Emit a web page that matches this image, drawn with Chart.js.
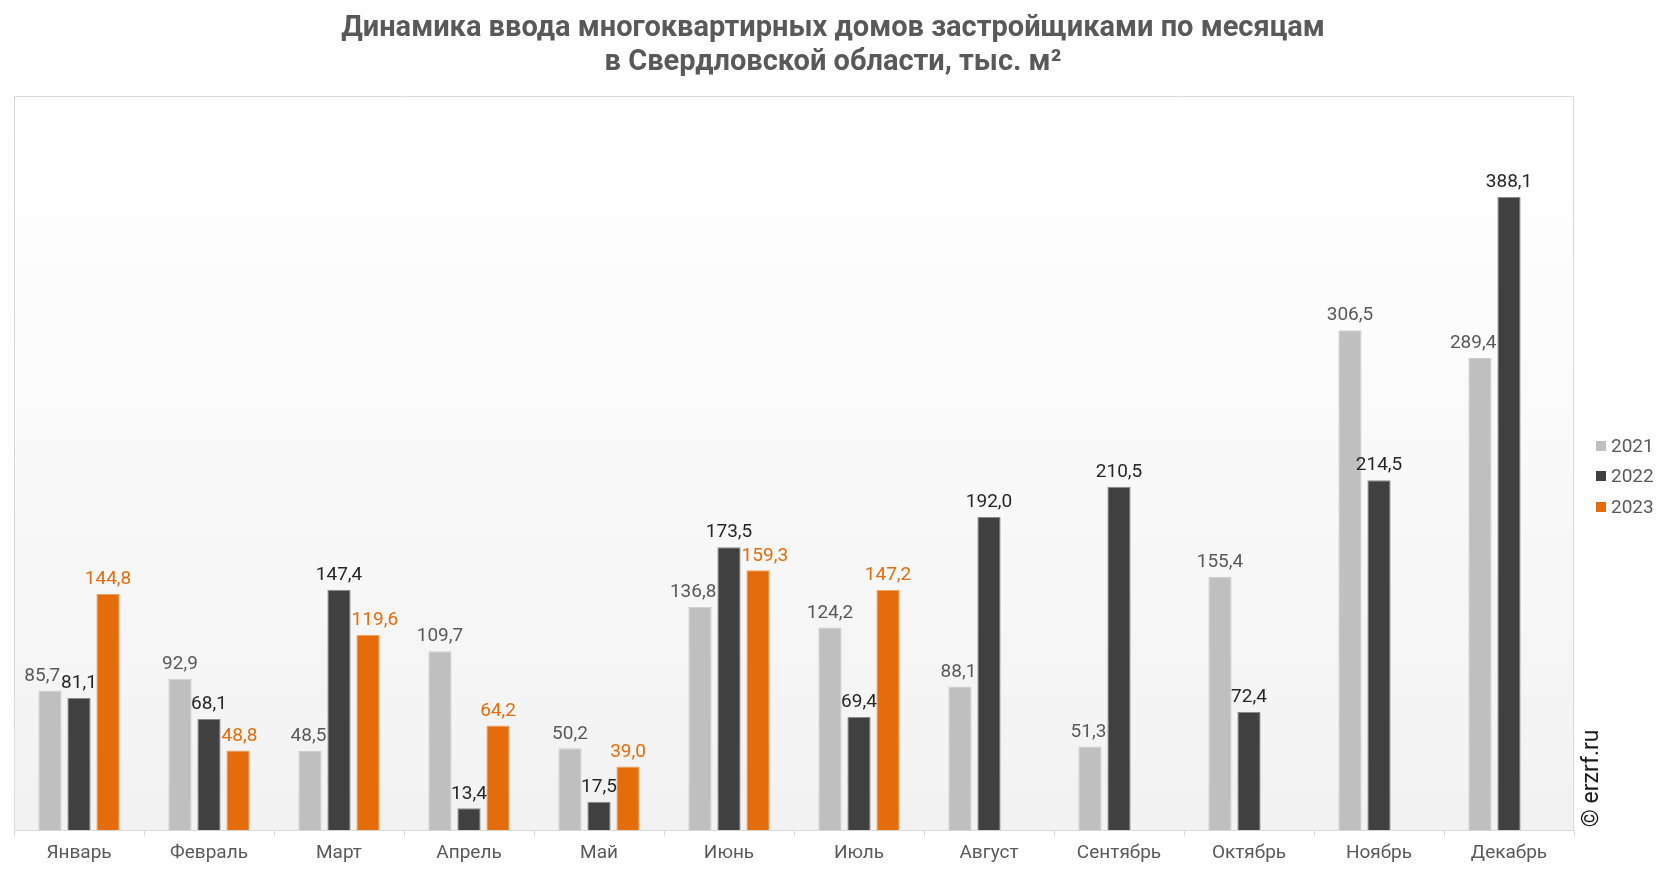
<!DOCTYPE html>
<html lang="ru">
<head>
<meta charset="utf-8">
<title>Динамика ввода многоквартирных домов</title>
<script src="https://cdn.jsdelivr.net/npm/chart.js@4.4.1/dist/chart.umd.min.js"></script>
<style>
    html, body { margin: 0; padding: 0; background: #ffffff; }
    #wrap { width: 1666px; height: 872px; }
</style>
</head>
<body>
<div id="wrap"><canvas id="inputChart" width="1666" height="872"></canvas></div>
<script>
// data, thousand m2
const months = ['Январь', 'Февраль', 'Март', 'Апрель', 'Май', 'Июнь', 'Июль', 'Август', 'Сентябрь', 'Октябрь', 'Ноябрь', 'Декабрь'];
const years = ['2021', '2022', '2023'];
const values2021 = [85.7, 92.9, 48.5, 109.7, 50.2, 136.8, 124.2, 88.1, 51.3, 155.4, 306.5, 289.4];
const values2022 = [81.1, 68.1, 147.4, 13.4, 17.5, 173.5, 69.4, 192.0, 210.5, 72.4, 214.5, 388.1];
const values2023 = [144.8, 48.8, 119.6, 64.2, 39.0, 159.3, 147.2, null, null, null, null, null];
const titleLines = ['Динамика ввода многоквартирных домов застройщиками по месяцам', 'в Свердловской области, тыс. м²'];

const barColors = ['#bfbfbf', '#404040', '#e46c0a'];
const labelColors = ['#595959', '#262626', '#e46c0a'];
const FONT = 'Roboto, "Noto Sans", sans-serif';
const LABEL_SIZE = 19;

function fmt(v) {
    return v.toFixed(1).replace('.', ',');
}

// plot area background and frame
const plotBackground = {
    id: 'plotBackground',
    beforeDraw(chart) {
        const { ctx, chartArea: a } = chart;
        const g = ctx.createLinearGradient(0, a.top, 0, a.bottom);
        g.addColorStop(0, '#ffffff');
        g.addColorStop(0.3, '#fcfcfc');
        g.addColorStop(1, '#f2f2f2');
        ctx.save();
        ctx.fillStyle = g;
        ctx.fillRect(a.left, a.top, a.right - a.left, a.bottom - a.top);
        ctx.strokeStyle = '#d9d9d9';
        ctx.lineWidth = 1;
        ctx.beginPath();
        ctx.moveTo(a.left + 0.5, a.bottom);
        ctx.lineTo(a.left + 0.5, a.top + 0.5);
        ctx.lineTo(a.right - 0.5, a.top + 0.5);
        ctx.lineTo(a.right - 0.5, a.bottom);
        ctx.stroke();

        // title, centred on the whole canvas
        ctx.fillStyle = '#595959';
        ctx.font = 'bold 29px ' + FONT;
        ctx.textAlign = 'center';
        ctx.textBaseline = 'middle';
        ctx.fillText(titleLines[0], chart.width / 2, 29);
        ctx.fillText(titleLines[1], chart.width / 2, 63);
        ctx.restore();
    }
};

// value labels above each bar; side labels step away from the middle bar
const valueLabels = {
    id: 'valueLabels',
    afterDatasetsDraw(chart) {
        const { ctx } = chart;
        ctx.save();
        ctx.font = LABEL_SIZE + 'px ' + FONT;
        ctx.textAlign = 'center';
        ctx.textBaseline = 'bottom';
        const mid = chart.getDatasetMeta(1).data;
        chart.data.datasets.forEach((ds, i) => {
            const meta = chart.getDatasetMeta(i);
            ctx.fillStyle = labelColors[i];
            meta.data.forEach((bar, j) => {
                const v = ds.data[j];
                if (v === null || v === undefined) return;
                const text = fmt(v);
                const w = ctx.measureText(text).width;
                const bottom = bar.y - 5;
                const top = bottom - LABEL_SIZE * 0.8;
                let x = bar.x;
                if (i !== 1 && values2022[j] !== null) {
                    const m = mid[j];
                    const mw = ctx.measureText(fmt(values2022[j])).width;
                    const mLabelTop = m.y - 5 - LABEL_SIZE * 0.8;
                    const half = m.width / 2;
                    // obstacles: middle bar and its label
                    let edge = null;
                    if (bottom > m.y) {
                        edge = i === 0 ? m.x - half : m.x + half;
                    }
                    if (bottom > mLabelTop && top < m.y - 5) {
                        const le = i === 0 ? m.x - mw / 2 : m.x + mw / 2;
                        edge = edge === null ? le : (i === 0 ? Math.min(edge, le) : Math.max(edge, le));
                    }
                    if (edge !== null) {
                        if (i === 0 && x + w / 2 > edge - 1) x = edge - 1 - w / 2;
                        if (i === 2 && x - w / 2 < edge + 1) x = edge + 1 + w / 2;
                    }
                }
                ctx.fillText(text, x, bottom);
            });
        });
        ctx.restore();
    }
};

// legend on the right and the copyright mark
const sideNotes = {
    id: 'sideNotes',
    afterDraw(chart) {
        const { ctx, chartArea: a } = chart;
        ctx.save();
        ctx.font = '19px ' + FONT;
        ctx.textBaseline = 'middle';
        ctx.textAlign = 'left';
        const ys = [446, 476, 507];
        years.forEach((y, i) => {
            ctx.fillStyle = barColors[i];
            ctx.fillRect(1596, ys[i] - 5, 10, 10);
            ctx.fillStyle = '#595959';
            ctx.fillText(y, 1611, ys[i] + 1);
        });
        ctx.translate(1592, a.bottom - 3);
        ctx.rotate(-Math.PI / 2);
        ctx.font = '23px ' + FONT;
        ctx.fillStyle = '#1a1a1a';
        ctx.fillText('© erzrf.ru', 0, 0);
        ctx.restore();
    }
};

const ctx = document.getElementById('inputChart').getContext('2d');
new Chart(ctx, {
    type: 'bar',
    data: {
        labels: months,
        datasets: [
            { label: years[0], data: values2021, backgroundColor: barColors[0], borderColor: '#d0d0d0', borderWidth: 1 },
            { label: years[1], data: values2022, backgroundColor: barColors[1], borderColor: '#8a8a8a', borderWidth: 1 },
            { label: years[2], data: values2023, backgroundColor: barColors[2], borderColor: '#f0a060', borderWidth: 1 }
        ]
    },
    plugins: [plotBackground, valueLabels, sideNotes],
    options: {
        responsive: false,
        animation: false,
        datasets: {
            bar: { categoryPercentage: 0.67, barPercentage: 0.8 }
        },
        layout: {
            padding: { left: 14, right: 92, top: 96, bottom: 1 }
        },
        plugins: {
            legend: { display: false },
            tooltip: { enabled: false },
            title: { display: false }
        },
        scales: {
            x: {
                grid: {
                    drawOnChartArea: false,
                    drawTicks: true,
                    tickLength: 6,
                    color: '#d9d9d9',
                    offset: true
                },
                border: { display: true, color: '#d9d9d9', width: 1 },
                ticks: {
                    color: '#595959',
                    font: { family: FONT, size: 19 },
                    padding: 6,
                    maxRotation: 0
                }
            },
            y: {
                display: false,
                min: 0,
                max: 450
            }
        }
    }
});
</script>
</body>
</html>
